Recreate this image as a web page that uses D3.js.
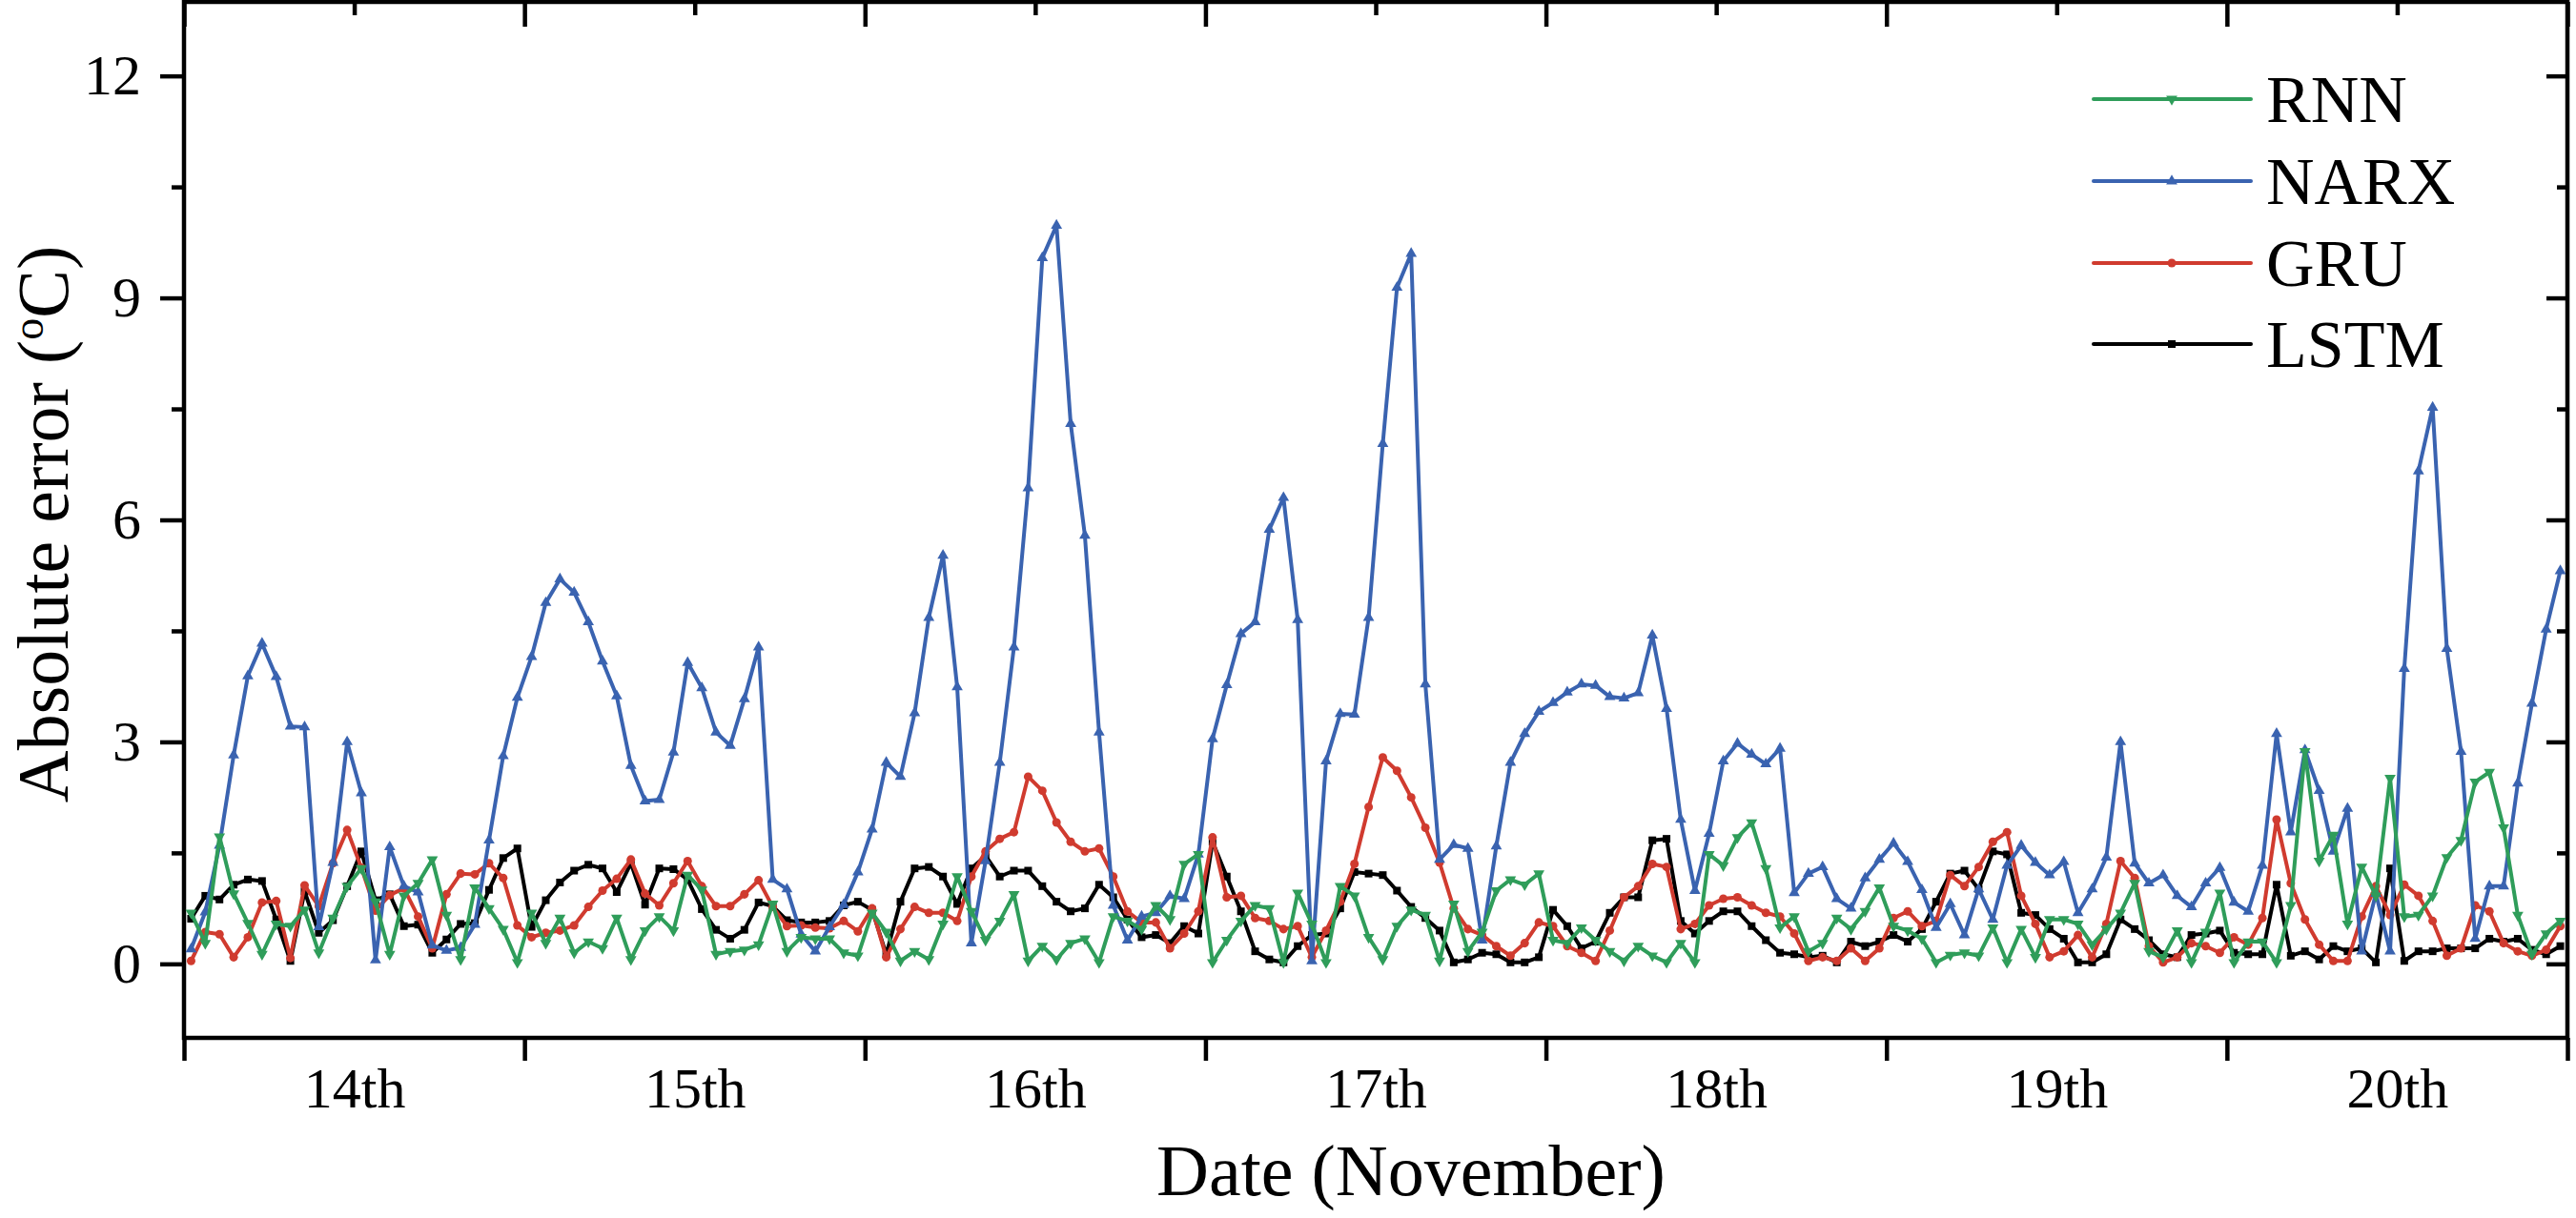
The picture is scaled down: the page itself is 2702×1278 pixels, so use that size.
<!DOCTYPE html>
<html>
<head>
<meta charset="utf-8">
<script src="https://cdnjs.cloudflare.com/ajax/libs/d3/7.8.5/d3.min.js"></script>
<style>
  body { margin: 0; background: #fff; }
  svg { display: block; }
  text { font-family: "Liberation Serif", "Times New Roman", serif; fill: #000; }
</style>
</head>
<body>
<svg id="chart"></svg>
<script>
// DATA : hourly absolute error (°C), 14th to 20th November, one value per hour
var dayLabels = ["14th", "15th", "16th", "17th", "18th", "19th", "20th"];
var seriesNames = ["RNN", "NARX", "GRU", "LSTM"];

var rnn = [
  0.69,0.28,1.72,0.95,0.55,0.13,0.54,0.51,0.73,0.15,0.62,1.05,1.29,0.84,0.13,0.92,1.09,1.41,0.66,0.06,1.03,0.75,0.47,0.02,
  0.69,0.28,0.62,0.15,0.30,0.21,0.62,0.06,0.45,0.64,0.45,1.20,1.00,0.13,0.17,0.19,0.26,0.81,0.17,0.36,0.34,0.34,0.15,0.11,
  0.69,0.43,0.04,0.17,0.06,0.54,1.18,0.71,0.32,0.58,0.94,0.04,0.24,0.06,0.28,0.34,0.02,0.64,0.58,0.47,0.79,0.60,1.35,1.48,
  0.02,0.32,0.58,0.79,0.75,0.02,0.96,0.54,0.02,1.05,0.92,0.36,0.06,0.51,0.73,0.66,0.04,0.81,0.17,0.43,0.99,1.14,1.07,1.22,
  0.32,0.28,0.49,0.32,0.17,0.04,0.24,0.11,0.02,0.28,0.02,1.48,1.33,1.71,1.91,1.29,0.49,0.64,0.17,0.28,0.62,0.47,0.71,1.03,
  0.51,0.45,0.34,0.02,0.12,0.15,0.11,0.49,0.02,0.47,0.09,0.60,0.60,0.54,0.26,0.47,0.69,1.09,0.17,0.09,0.45,0.02,0.43,0.96,
  0.02,0.30,0.30,0.02,0.79,2.87,1.39,1.74,0.54,1.31,0.92,2.51,0.64,0.66,0.92,1.44,1.67,2.46,2.59,1.84,0.66,0.13,0.41,0.58
];

var narx = [
  0.20,0.70,1.60,2.82,3.89,4.33,3.88,3.21,3.20,0.50,1.37,3.00,2.31,0.05,1.58,1.05,0.97,0.25,0.18,0.22,0.53,1.67,2.81,3.60,
  4.15,4.88,5.20,5.02,4.62,4.09,3.62,2.68,2.20,2.22,2.86,4.07,3.73,3.13,2.95,3.58,4.28,1.14,1.01,0.40,0.17,0.50,0.80,1.24,
  1.82,2.72,2.53,3.39,4.68,5.52,3.74,0.28,1.39,2.72,4.28,6.43,9.54,9.98,7.30,5.79,3.13,0.79,0.32,0.64,0.69,0.92,0.88,1.48,
  3.04,3.77,4.46,4.62,5.87,6.30,4.65,0.04,2.74,3.38,3.37,4.68,7.03,9.14,9.60,3.78,1.41,1.61,1.56,0.32,1.59,2.72,3.11,3.41,
  3.53,3.67,3.78,3.76,3.61,3.59,3.66,4.44,3.45,1.95,0.99,1.76,2.74,2.98,2.83,2.70,2.91,0.96,1.22,1.31,0.88,0.75,1.16,1.41,
  1.63,1.38,1.00,0.49,0.81,0.39,1.01,0.60,1.33,1.60,1.37,1.20,1.38,0.69,1.01,1.44,3.00,1.36,1.09,1.20,0.92,0.77,1.09,1.30,
  0.83,0.71,1.33,3.11,1.78,2.89,2.34,1.52,2.10,0.17,0.95,0.17,3.99,6.66,7.52,4.26,2.87,0.34,1.05,1.05,2.44,3.52,4.52,5.31
];

var gru = [
  0.04,0.43,0.40,0.09,0.36,0.83,0.85,0.08,1.06,0.78,1.36,1.81,1.30,0.72,0.93,1.02,0.64,0.21,0.94,1.22,1.21,1.36,1.16,0.52,
  0.36,0.42,0.45,0.52,0.77,0.99,1.15,1.41,0.95,0.79,1.09,1.39,1.05,0.78,0.78,0.94,1.13,0.77,0.51,0.52,0.49,0.48,0.58,0.44,
  0.75,0.09,0.47,0.77,0.69,0.69,0.58,1.18,1.52,1.69,1.78,2.53,2.34,1.91,1.65,1.52,1.56,1.18,0.71,0.56,0.56,0.21,0.41,0.71,
  1.71,0.90,0.92,0.62,0.58,0.47,0.51,0.09,0.45,0.84,1.35,2.12,2.79,2.61,2.25,1.84,1.37,0.75,0.47,0.39,0.24,0.11,0.28,0.56,
  0.51,0.24,0.15,0.04,0.45,0.90,1.05,1.35,1.31,0.47,0.54,0.79,0.88,0.90,0.79,0.69,0.64,0.41,0.04,0.09,0.04,0.21,0.04,0.21,
  0.62,0.71,0.51,0.58,1.20,1.05,1.31,1.65,1.78,0.92,0.54,0.09,0.17,0.39,0.09,0.54,1.39,1.16,0.24,0.02,0.09,0.28,0.24,0.15,
  0.36,0.26,0.62,1.95,1.09,0.60,0.26,0.04,0.04,0.64,1.05,0.66,1.07,0.92,0.58,0.11,0.21,0.79,0.71,0.28,0.17,0.11,0.19,0.51
];

var lstm = [
  0.61,0.92,0.87,1.07,1.14,1.12,0.60,0.04,0.98,0.42,0.59,1.05,1.52,0.86,0.94,0.51,0.53,0.15,0.33,0.54,0.55,1.00,1.43,1.56,
  0.50,0.86,1.10,1.26,1.34,1.29,0.97,1.36,0.80,1.29,1.28,1.14,0.74,0.46,0.34,0.46,0.83,0.78,0.59,0.56,0.56,0.58,0.79,0.84,
  0.73,0.13,0.84,1.29,1.31,1.18,0.81,1.29,1.46,1.18,1.26,1.26,1.05,0.84,0.71,0.75,1.07,0.90,0.60,0.36,0.39,0.28,0.51,0.41,
  1.65,1.18,0.71,0.17,0.06,0.02,0.24,0.39,0.41,0.75,1.24,1.22,1.20,0.99,0.77,0.62,0.45,0.02,0.06,0.15,0.13,0.02,0.02,0.09,
  0.73,0.51,0.21,0.30,0.69,0.90,0.90,1.67,1.69,0.58,0.41,0.58,0.71,0.71,0.51,0.32,0.15,0.13,0.09,0.11,0.02,0.30,0.24,0.30,
  0.39,0.30,0.47,0.84,1.22,1.26,1.01,1.52,1.48,0.69,0.66,0.47,0.34,0.02,0.02,0.13,0.60,0.47,0.32,0.13,0.09,0.39,0.41,0.45,
  0.15,0.13,0.13,1.07,0.11,0.17,0.06,0.24,0.17,0.21,0.02,1.29,0.04,0.17,0.17,0.21,0.21,0.21,0.34,0.30,0.34,0.19,0.13,0.24
];

var yMajorTicks = [0, 3, 6, 9, 12];
var yMinorTicks = [1.5, 4.5, 7.5, 10.5];

// SIZES
var width = 2702;
var height = 1278;
var plotLeft = 193, plotRight = 2693, plotTop = 2, plotBottom = 1089;
var hoursPerDay = 24;
var nbDays = dayLabels.length;

// LOOK
var colors = { RNN: "#2f9d5a", NARX: "#3a63b0", GRU: "#d03b2f", LSTM: "#000000" };
var lineWidth = 4;
var frameWidth = 4.5;
var tickFontSize = 60;
var titleFontSize = 76;
var legendFontSize = 70;

var svg = d3.select("#chart").attr("width", width).attr("height", height);

var x = d3.scaleLinear().domain([0, nbDays * hoursPerDay]).range([plotLeft, plotRight]);
var y = d3.scaleLinear().domain([-1, 13]).range([plotBottom, plotTop]);

var dayBounds = d3.range(0, nbDays + 1).map(function(d){ return d * hoursPerDay; });
var dayMiddles = d3.range(0, nbDays).map(function(d){ return d * hoursPerDay + hoursPerDay / 2; });

function styleAxis(g){
    g.select(".domain").remove();
    g.selectAll(".tick line").attr("stroke", "#000").attr("stroke-width", frameWidth);
    g.selectAll(".tick text").attr("font-size", tickFontSize).attr("font-family", "Liberation Serif, Times New Roman, serif");
}

// left axis : labels + major/minor ticks outside
svg.append("g").attr("transform", "translate(" + plotLeft + ",0)")
    .call(d3.axisLeft(y).tickValues(yMajorTicks).tickSize(25).tickPadding(20).tickFormat(d3.format("d")))
    .call(styleAxis);
svg.append("g").attr("transform", "translate(" + plotLeft + ",0)")
    .call(d3.axisLeft(y).tickValues(yMinorTicks).tickSize(13).tickFormat(""))
    .call(styleAxis);

// right axis : ticks inside
svg.append("g").attr("transform", "translate(" + plotRight + ",0)")
    .call(d3.axisLeft(y).tickValues(yMajorTicks).tickSize(22).tickFormat(""))
    .call(styleAxis);
svg.append("g").attr("transform", "translate(" + plotRight + ",0)")
    .call(d3.axisLeft(y).tickValues(yMinorTicks).tickSize(11).tickFormat(""))
    .call(styleAxis);

// bottom axis : day bounds outside, labels at noon
svg.append("g").attr("transform", "translate(0," + plotBottom + ")")
    .call(d3.axisBottom(x).tickValues(dayBounds).tickSize(24).tickFormat(""))
    .call(styleAxis);
svg.append("g").attr("transform", "translate(0," + plotBottom + ")")
    .call(d3.axisBottom(x).tickValues(dayMiddles).tickSize(0).tickPadding(30)
        .tickFormat(function(d, i){ return dayLabels[i]; }))
    .call(styleAxis);

// top axis : ticks inside
svg.append("g").attr("transform", "translate(0," + plotTop + ")")
    .call(d3.axisBottom(x).tickValues(dayBounds).tickSize(26).tickFormat(""))
    .call(styleAxis);
svg.append("g").attr("transform", "translate(0," + plotTop + ")")
    .call(d3.axisBottom(x).tickValues(dayMiddles).tickSize(14).tickFormat(""))
    .call(styleAxis);

// frame
svg.append("rect")
    .attr("x", plotLeft).attr("y", plotTop)
    .attr("width", plotRight - plotLeft).attr("height", plotBottom - plotTop)
    .attr("fill", "none").attr("stroke", "#000").attr("stroke-width", frameWidth);

// titles
svg.append("text")
    .attr("x", 1480).attr("y", 1254)
    .attr("text-anchor", "middle")
    .attr("font-size", titleFontSize)
    .text("Date (November)");

// y title kept a few px off the left edge so that its font box is not cut
var yTitle = svg.append("text")
    .attr("transform", "translate(71,550) rotate(-90)")
    .attr("text-anchor", "middle")
    .attr("font-size", titleFontSize);
yTitle.append("tspan").text("Absolute error (");
yTitle.append("tspan").attr("font-size", 46).attr("dy", -26).text("o");
yTitle.append("tspan").attr("dy", 26).text("C)");

// markers
function markerPath(name){
    if(name == "RNN") return d3.symbol(d3.symbolTriangle, 60)();
    if(name == "NARX") return d3.symbol(d3.symbolTriangle, 60)();
    if(name == "GRU") return d3.symbol(d3.symbolCircle, 64)();
    return d3.symbol(d3.symbolSquare, 64)();
}
function markerRotation(name){
    return name == "RNN" ? " rotate(180)" : "";
}

var dataByName = { RNN: rnn, NARX: narx, GRU: gru, LSTM: lstm };
var drawOrder = ["LSTM", "GRU", "NARX", "RNN"];

var line = d3.line()
    .x(function(d, i){ return x(i + 0.5); })
    .y(function(d){ return y(d); });

var plot = svg.append("g");
drawOrder.forEach(function(name){
    var g = plot.append("g");
    var values = dataByName[name];
    g.append("path")
        .datum(values)
        .attr("d", line)
        .attr("fill", "none")
        .attr("stroke", colors[name])
        .attr("stroke-width", lineWidth)
        .attr("stroke-linejoin", "round");
    g.selectAll("path.mk")
        .data(values)
        .enter()
        .append("path")
        .attr("class", "mk")
        .attr("d", markerPath(name))
        .attr("transform", function(d, i){
            return "translate(" + x(i + 0.5) + "," + y(d) + ")" + markerRotation(name);
        })
        .attr("fill", colors[name]);
});

// legend
var legendRowY = [104, 190, 276, 361];
var legend = svg.append("g");
seriesNames.forEach(function(name, i){
    var ly = legendRowY[i];
    legend.append("line")
        .attr("x1", 2196).attr("x2", 2361)
        .attr("y1", ly).attr("y2", ly)
        .attr("stroke", colors[name])
        .attr("stroke-width", lineWidth)
        .attr("stroke-linecap", "round");
    legend.append("path")
        .attr("d", markerPath(name))
        .attr("transform", "translate(2278," + ly + ")" + markerRotation(name))
        .attr("fill", colors[name]);
    legend.append("text")
        .attr("x", 2377).attr("y", ly + 24)
        .attr("font-size", legendFontSize)
        .text(name);
});
</script>
</body>
</html>
